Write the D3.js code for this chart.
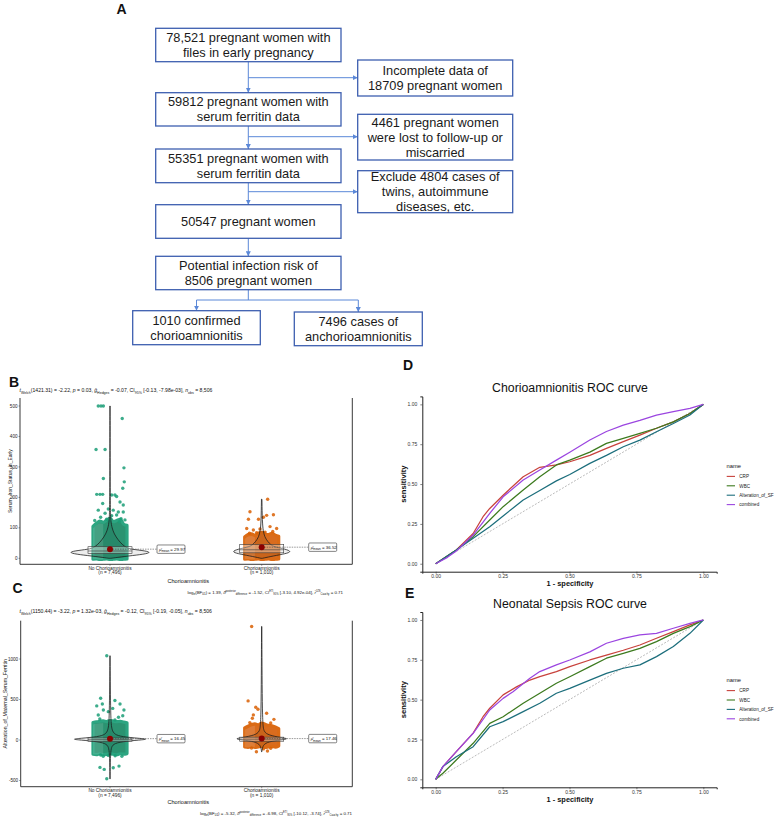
<!DOCTYPE html>
<html>
<head>
<meta charset="utf-8">
<script src="https://cdn.jsdelivr.net/npm/d3@7"></script>
<style>
  body { margin: 0; background: #fff; }
  svg { display: block; }
</style>
</head>
<body>
<svg id="fig" width="779" height="826"></svg>
<script>
// ---- A: flow chart texts
const flowMain = [
  ["78,521 pregnant women with", "files in early pregnancy"],
  ["59812 pregnant women with", "serum ferritin data"],
  ["55351 pregnant women with", "serum ferritin data"],
  ["50547 pregnant women"],
  ["Potential infection risk of", "8506 pregnant women"]
]
const flowExcluded = [
  ["Incomplete data of", "18709 pregnant women"],
  ["4461 pregnant women", "were lost to follow-up or", "miscarried"],
  ["Exclude 4804 cases of", "twins, autoimmune", "diseases, etc."]
]
const flowOutcome = [
  ["1010 confirmed", "chorioamnionitis"],
  ["7496 cases of", "anchorioamnionitis"]
]

// ---- B / C: between group plots
const groups = ["No Chorioamnionitis", "Chorioamnionitis"]
const groupN = ["7,496", "1,010"]

// jittered outliers as [jitter fraction, value]
const ironNoOutliers = [[-0.69,500],[-0.53,500],[-0.39,500],[0.72,459],[-0.82,357],[-0.29,357],[0.82,297],[-0.39,262],
  [0.84,251],[0.75,230],[-0.78,210],[-0.59,210],[-0.43,210],[0.1,208],[0.29,208],[0.39,203],[-0.43,180],[0.59,185],
  [0.78,175],[-0.69,158],[-0.1,162],[0.19,158],[0.49,152],[-0.29,148],[0.78,152],[0.39,142],[0.1,140],[-0.55,135],
  [0.65,130],[-0.2,128],[0.88,126],[-0.9,124],[0.55,120],[-0.05,122]]
const ironYesOutliers = [[0.35,194],[-0.69,153],[-0.78,128],[-0.19,128],[0.1,135],[0.29,141],[0.69,143],[-0.88,98],
  [-0.49,93],[-0.1,96],[0.49,104],[0.88,98],[-0.72,82],[0.2,86],[-0.3,84],[0.65,88]]
const alterNoOutliers = [[-0.19,1040],[-0.55,516],[-0.78,421],[-0.45,445],[0.29,488],[0.59,445],[0.82,371],[-0.39,371],
  [-0.1,350],[0.16,390],[-0.69,309],[0.75,300],[0.29,247],[-0.6,260],[0.5,280],[-0.55,-186],[-0.4,-200],[-0.1,-190],
  [0.3,-195],[-0.59,-338],[-0.34,-363],[0.19,-343],[0.53,-322],[-0.19,-479],[0.7,-200]]
const alterYesOutliers = [[-0.59,1402],[-0.8,483],[-0.35,405],[-0.22,380],[0.29,330],[-0.49,310],[-0.55,268],[0.72,255],
  [0.53,210],[-0.7,215],[-0.31,-145],[0.34,-136],[0.53,-103],[-0.6,-100],[0.1,-110]]

// dense cloud of points: top / bottom value per jitter column (-1 .. 1)
const ironNoCoreTop = [105,115,122,118,125,132,120,124,128,112,108]
const ironNoCoreBottom = [-3,-2,-4,-3,-2,-4,-3,-2,-4,-3,-2]
const ironYesCoreTop = [70,78,80,75,82,85,80,78,82,76,72]
const ironYesCoreBottom = [-3,-2,-4,-3,-2,-4,-3,-2,-4,-3,-2]
const alterNoCoreTop = [215,225,230,235,228,240,232,226,230,220,212]
const alterNoCoreBottom = [-175,-180,-170,-180,-178,-172,-176,-182,-170,-175,-168]
const alterYesCoreTop = [150,170,190,200,185,210,195,180,175,160,140]
const alterYesCoreBottom = [-85,-90,-80,-90,-85,-80,-90,-85,-80,-88,-75]

// violin profiles [value, relative density]
const ironNoViolin = [[0,0.02],[6,0.35],[12,0.75],[18,1],[24,0.9],[30,0.5],[35,0.4],[45,0.3],[60,0.2],[80,0.1],
  [100,0.05],[120,0.02],[160,0.008],[300,0.005],[500,0.004]]
const ironYesViolin = [[0,0.02],[8,0.4],[15,0.8],[22,1],[30,0.8],[38,0.4],[45,0.3],[55,0.2],[70,0.1],[90,0.05],
  [120,0.02],[194,0.008]]
const alterNoViolin = [[-480,0.004],[-200,0.01],[-100,0.03],[-50,0.08],[-20,0.3],[0,0.8],[10,1],[20,0.8],[40,0.3],
  [70,0.12],[120,0.05],[250,0.015],[1040,0.004]]
const alterYesViolin = [[-145,0.006],[-60,0.04],[-20,0.25],[0,0.7],[15,1],[30,0.7],[60,0.25],[100,0.08],[200,0.02],
  [1402,0.005]]

// box [q1, median, q3] and mean
const ironBoxes = [[16,24,38],[18,28,45]]
const ironMeans = [29.97, 36.52]
const alterBoxes = [[-15,5,25],[-15,10,35]]
const alterMeans = [16.45, 17.46]

const ironSubtitle = [["t","i"],["Welch","sub"],["(1421.31) = -2.22, ",""],["p","i"],[" = 0.03, ",""],["ĝ","i"],["Hedges","sub"],
  [" = -0.07, CI",""],["95%","sub"],[" [-0.13, -7.98e-03], ",""],["n","i"],["obs","sub"],[" = 8,506",""]]
const ironCaption = [["log",""],["e","sub"],["(BF",""],["01","sub"],[") = 1.39, ",""],["δ̂","i"],["posterior","supsub"],["difference","sub2"],
  [" = -1.52, CI",""],["ETI","supsub"],["95%","sub2"],[" [-3.10, 4.92e-04], ",""],["r̂","i"],["JZS","supsub"],["Cauchy","sub2"],[" = 0.71",""]]
const alterSubtitle = [["t","i"],["Welch","sub"],["(1150.44) = -3.22, ",""],["p","i"],[" = 1.32e-03, ",""],["ĝ","i"],["Hedges","sub"],
  [" = -0.12, CI",""],["95%","sub"],[" [-0.19, -0.05], ",""],["n","i"],["obs","sub"],[" = 8,506",""]]
const alterCaption = [["log",""],["e","sub"],["(BF",""],["01","sub"],[") = -5.32, ",""],["δ̂","i"],["posterior","supsub"],["difference","sub2"],
  [" = -6.98, CI",""],["ETI","supsub"],["95%","sub2"],[" [-10.12, -3.74], ",""],["r̂","i"],["JZS","supsub"],["Cauchy","sub2"],[" = 0.71",""]]

// ---- D / E: ROC curves [1 - specificity, sensitivity]
const rocNames = ["CRP", "WBC", "Alteration_of_SF", "combined"]
const rocColors = ["#C8423C", "#3C7A1E", "#1C6E7C", "#9B45E0"]
const chorioCRP = [[0,0],[0.077,0.086],[0.14,0.19],[0.177,0.295],[0.202,0.347],[0.252,0.43],[0.327,0.546],[0.389,0.605],
  [0.451,0.62],[0.501,0.64],[0.576,0.68],[0.638,0.724],[0.701,0.766],[0.763,0.807],[0.825,0.85],[0.888,0.89],[0.95,0.943],[1,1]]
const chorioWBC = [[0,0],[0.077,0.086],[0.14,0.17],[0.202,0.274],[0.252,0.358],[0.327,0.462],[0.389,0.546],[0.451,0.62],
  [0.501,0.65],[0.576,0.70],[0.638,0.755],[0.701,0.787],[0.763,0.818],[0.825,0.85],[0.888,0.89],[0.95,0.943],[1,1]]
const chorioSF = [[0,0],[0.077,0.086],[0.14,0.16],[0.202,0.232],[0.252,0.30],[0.327,0.40],[0.389,0.46],[0.451,0.52],
  [0.501,0.56],[0.576,0.63],[0.638,0.68],[0.701,0.734],[0.763,0.776],[0.825,0.828],[0.888,0.88],[0.95,0.933],[1,1]]
const chorioCombined = [[0,0],[0.044,0.04],[0.077,0.08],[0.14,0.18],[0.202,0.316],[0.252,0.42],[0.327,0.525],[0.389,0.588],
  [0.451,0.65],[0.501,0.70],[0.576,0.776],[0.638,0.83],[0.701,0.87],[0.763,0.90],[0.825,0.933],[0.888,0.954],[0.95,0.975],[1,1]]
const sepsisCRP = [[0,0],[0.027,0.08],[0.077,0.174],[0.14,0.29],[0.177,0.393],[0.202,0.446],[0.252,0.53],[0.302,0.58],
  [0.352,0.623],[0.389,0.644],[0.451,0.676],[0.501,0.707],[0.576,0.749],[0.638,0.78],[0.701,0.81],[0.763,0.843],
  [0.825,0.885],[0.888,0.927],[0.95,0.969],[1,1]]
const sepsisWBC = [[0,0],[0.027,0.038],[0.077,0.121],[0.14,0.226],[0.202,0.351],[0.252,0.393],[0.327,0.477],[0.389,0.54],
  [0.451,0.603],[0.501,0.644],[0.576,0.707],[0.638,0.76],[0.701,0.79],[0.763,0.822],[0.825,0.864],[0.888,0.916],[0.95,0.958],[1,1]]
const sepsisSF = [[0,0],[0.027,0.08],[0.077,0.142],[0.14,0.205],[0.202,0.33],[0.252,0.362],[0.327,0.425],[0.389,0.477],
  [0.451,0.54],[0.501,0.571],[0.576,0.623],[0.638,0.665],[0.701,0.697],[0.763,0.718],[0.825,0.77],[0.888,0.833],[0.95,0.916],[1,1]]
const sepsisCombined = [[0,0],[0.027,0.08],[0.077,0.174],[0.14,0.289],[0.202,0.435],[0.252,0.508],[0.289,0.55],[0.352,0.634],
  [0.389,0.676],[0.451,0.718],[0.501,0.749],[0.576,0.80],[0.638,0.854],[0.701,0.885],[0.763,0.906],[0.825,0.916],
  [0.888,0.948],[0.95,0.979],[1,1]]
const rocTicks = [0, 0.25, 0.5, 0.75, 1]

const svg = d3.select("#fig")
const SANS = "'Liberation Sans', Arial, sans-serif"

function panelLabel(t, x, y) {
  svg.append("text").attr("x", x).attr("y", y).text(t)
    .attr("font-family", SANS).attr("font-weight", "bold").attr("font-size", 14).attr("fill", "#111")
}

// ================= A : flow chart =================
function drawFlow() {
  const g = svg.append("g")
  const boxStroke = "#3d5fb0", lineCol = "#5b88d8"
  const mainX = [155.7, 341], cx = 248.3
  const mainY = [[28.3,61.7],[92.7,126],[149,182.7],[204.7,238.3],[256.3,289.7]]
  const sideX = [357.7, 512.7]
  const sideY = [[60,96],[114.3,160],[170.7,212.7]]
  const branchY = [77.7, 136.7, 191.7]
  const outX = [[132.7,260.3],[294.3,422.3]]
  const outY = [[310.7,344.7],[312,345.7]]
  const splitY = 300

  g.append("defs").append("marker").attr("id", "arr").attr("viewBox", "0 0 6 6")
    .attr("refX", 6).attr("refY", 3).attr("markerWidth", 5).attr("markerHeight", 5).attr("orient", "auto")
    .append("path").attr("d", "M0,0L6,3L0,6z").attr("fill", lineCol)

  function line(x1, y1, x2, y2, arrow) {
    const l = g.append("line").attr("x1", x1).attr("y1", y1).attr("x2", x2).attr("y2", y2)
      .attr("stroke", lineCol).attr("stroke-width", 1)
    if (arrow) l.attr("marker-end", "url(#arr)")
  }
  function box(x0, x1, y0, y1, lines) {
    g.append("rect").attr("x", x0).attr("y", y0).attr("width", x1 - x0).attr("height", y1 - y0)
      .attr("fill", "#fff").attr("stroke", boxStroke).attr("stroke-width", 1.3)
    const lh = 15, mid = (y0 + y1) / 2
    lines.forEach((t, i) => {
      g.append("text").attr("x", (x0 + x1) / 2).attr("y", mid + (i - (lines.length - 1) / 2) * lh + 4.4)
        .attr("text-anchor", "middle").attr("font-family", SANS)
        .attr("font-size", 12.8).attr("fill", "#1a1a1a").text(t)
    })
  }
  // vertical connectors
  for (let i = 0; i < mainY.length - 1; i++) line(cx, mainY[i][1], cx, mainY[i + 1][0], true)
  branchY.forEach(y => line(cx, y, sideX[0], y, true))
  line(cx, mainY[4][1], cx, splitY)
  const oc = outX.map(d => (d[0] + d[1]) / 2)
  line(oc[0], splitY, oc[1], splitY)
  line(oc[0], splitY, oc[0], outY[0][0], true)
  line(oc[1], splitY, oc[1], outY[1][0], true)

  flowMain.forEach((t, i) => box(mainX[0], mainX[1], mainY[i][0], mainY[i][1], t))
  flowExcluded.forEach((t, i) => box(sideX[0], sideX[1], sideY[i][0], sideY[i][1], t))
  flowOutcome.forEach((t, i) => box(outX[i][0], outX[i][1], outY[i][0], outY[i][1], t))
}

// rich small text with sub/superscripts
function richText(g, x, y, parts, size, anchor) {
  const t = g.append("text").attr("x", x).attr("y", y).attr("font-family", SANS)
    .attr("font-size", size).attr("fill", "#111").attr("text-anchor", anchor || "start")
  let shift = 0
  parts.forEach(([s, k]) => {
    const sp = t.append("tspan").text(s)
    let target = 0, fs = size
    if (k === "sub") { target = size * 0.3; fs = size * 0.7 }
    if (k === "sub2") { target = size * 0.3; fs = size * 0.6 }
    if (k === "supsub") { target = -size * 0.4; fs = size * 0.6 }
    if (k === "i") sp.attr("font-style", "italic")
    sp.attr("font-size", fs).attr("dy", target - shift)
    shift = target
  })
  return t
}

// ================= B / C : violin + box + jitter =================
function drawBetween(cfg) {
  const g = svg.append("g")
  const y = d3.scaleLinear().domain(cfg.yDomain).range(cfg.yRange)
  const x = d3.scalePoint().domain(groups).range([110, 261.7])
  const jw = 17
  const colors = ["#1B9E77", "#D95F02"], coreColors = ["#1a8a66", "#d6600c"]

  // frame lines
  g.append("line").attr("x1", cfg.left).attr("x2", cfg.left).attr("y1", cfg.top).attr("y2", cfg.bottom).attr("stroke", "#222").attr("stroke-width", 0.9)
  g.append("line").attr("x1", cfg.right).attr("x2", cfg.right).attr("y1", cfg.top).attr("y2", cfg.bottom).attr("stroke", "#222").attr("stroke-width", 0.9)
  g.append("line").attr("x1", cfg.left).attr("x2", cfg.right).attr("y1", cfg.bottom).attr("y2", cfg.bottom).attr("stroke", "#222").attr("stroke-width", 0.9)

  // y axis ticks
  cfg.yTicks.forEach(v => {
    g.append("line").attr("x1", cfg.left - 1.5).attr("x2", cfg.left).attr("y1", y(v)).attr("y2", y(v)).attr("stroke", "#333").attr("stroke-width", 0.5)
    g.append("text").attr("x", cfg.left - 2.5).attr("y", y(v) + 1.6).attr("text-anchor", "end")
      .attr("font-family", SANS).attr("font-size", 4.6).attr("fill", "#222").text(v)
  })
  g.append("text").attr("transform", `translate(${cfg.yTitleX},${(cfg.top + cfg.bottom) / 2}) rotate(-90)`)
    .attr("text-anchor", "middle").attr("font-family", SANS).attr("font-size", cfg.yTitleSize).attr("fill", "#111").text(cfg.yTitle)

  groups.forEach((name, gi) => {
    const cx = x(name)
    g.append("line").attr("x1", cx).attr("x2", cx).attr("y1", cfg.bottom).attr("y2", cfg.bottom + 1.5).attr("stroke", "#333").attr("stroke-width", 0.5)
    g.append("text").attr("x", cx).attr("y", cfg.bottom + 5.4).attr("text-anchor", "middle").attr("font-family", SANS)
      .attr("font-size", 4.8).attr("fill", "#222").text(name)
    g.append("text").attr("x", cx).attr("y", cfg.bottom + 9.8).attr("text-anchor", "middle").attr("font-family", SANS)
      .attr("font-size", 4.8).attr("fill", "#222").text(`(n = ${groupN[gi]})`)

    // dense point cloud
    const top = cfg.coreTop[gi], bot = cfg.coreBottom[gi]
    const cols = top.map((v, i) => ({ f: -1 + 2 * i / (top.length - 1), t: v, b: bot[i] }))
    g.append("path").datum(cols)
      .attr("d", d3.area().x(d => cx + d.f * jw).y0(d => y(d.b)).y1(d => y(d.t)).curve(d3.curveMonotoneX))
      .attr("fill", coreColors[gi]).attr("stroke", colors[gi]).attr("stroke-width", 3.2).attr("stroke-linejoin", "round")
      .attr("opacity", 0.92)
    // lighter left band
    g.append("path").datum(cols.slice(0, 4))
      .attr("d", d3.area().x(d => cx + d.f * jw).y0(d => y(d.b)).y1(d => y(d.t) + 2).curve(d3.curveMonotoneX))
      .attr("fill", "#fff").attr("opacity", 0.12)

    g.selectAll(null).data(cfg.outliers[gi]).join("circle")
      .attr("cx", d => cx + d[0] * jw).attr("cy", d => y(d[1])).attr("r", 1.7)
      .attr("fill", colors[gi]).attr("opacity", 0.85)

    // violin
    const vio = cfg.violins[gi], vmax = cfg.violinMax[gi]
    g.append("path").datum(vio)
      .attr("d", d3.area().y(d => y(d[0])).x0(d => cx - d[1] * vmax).x1(d => cx + d[1] * vmax).curve(d3.curveBasis))
      .attr("fill", "#000").attr("fill-opacity", 0.07).attr("stroke", "#1a1a1a").attr("stroke-width", 0.75)

    // box
    const [q1, md, q3] = cfg.boxes[gi]
    g.append("rect").attr("x", cx - 22).attr("y", y(q3)).attr("width", 44).attr("height", Math.max(1.5, y(q1) - y(q3)))
      .attr("fill", "#fff").attr("fill-opacity", 0.35).attr("stroke", "#3a3a3a").attr("stroke-width", 0.6)
    g.append("line").attr("x1", cx - 22).attr("x2", cx + 22).attr("y1", y(md)).attr("y2", y(md)).attr("stroke", "#3a3a3a").attr("stroke-width", 0.6)

    // mean
    const my = y(cfg.means[gi])
    g.append("line").attr("x1", cx).attr("x2", cx + 47).attr("y1", my).attr("y2", my)
      .attr("stroke", "#333").attr("stroke-width", 0.5).attr("stroke-dasharray", "1.5,1")
    g.append("circle").attr("cx", cx).attr("cy", my).attr("r", 3).attr("fill", "#8B0000")
    g.append("rect").attr("x", cx + 47).attr("y", my - 4.2).attr("width", 28).attr("height", 8.4).attr("rx", 1)
      .attr("fill", "#fff").attr("stroke", "#333").attr("stroke-width", 0.6)
    richText(g, cx + 49, my + 1.8, [["μ̂", "i"], ["mean", "sub"], [" = " + cfg.means[gi].toFixed(2), ""]], 4.4)
  })

  g.append("text").attr("x", 188.3).attr("y", cfg.xTitleY).attr("text-anchor", "middle").attr("font-family", SANS)
    .attr("font-size", 5.6).attr("fill", "#111").text("Chorioamnionitis")
  richText(g, 19.5, cfg.subtitleY, cfg.subtitle, 5.1)
  richText(g, cfg.captionX, cfg.captionY, cfg.caption, 4.4, "end")
}

// ================= D / E : ROC =================
function drawRoc(cfg) {
  const g = svg.append("g")
  const x = d3.scaleLinear().domain([-0.05, 1.05]).range([422.3, 716.7])
  const y = d3.scaleLinear().domain([-0.05, 1.05]).range([cfg.y0, cfg.y0 - 175.3])

  g.append("text").attr("x", 570).attr("y", cfg.y0 - 179.5).attr("text-anchor", "middle").attr("font-family", SANS)
    .attr("font-size", 12.3).attr("fill", "#111").text(cfg.title)

  const xa = g.append("g").attr("transform", `translate(0,${cfg.y0})`)
    .call(d3.axisBottom(x).tickValues(rocTicks).tickFormat(d3.format(".2f")).tickSize(2))
  const ya = g.append("g").attr("transform", "translate(422.3,0)")
    .call(d3.axisLeft(y).tickValues(rocTicks).tickFormat(d3.format(".2f")).tickSize(2))
  ;[xa, ya].forEach(a => {
    a.select(".domain").attr("stroke", "#222").attr("stroke-width", 1)
    a.selectAll(".tick line").attr("stroke", "#333").attr("stroke-width", 0.6)
    a.selectAll(".tick text").attr("font-family", SANS).attr("font-size", 5).attr("fill", "#333")
  })
  xa.selectAll(".tick text").attr("y", 3).attr("dy", "0.71em")

  g.append("text").attr("x", 570).attr("y", cfg.y0 + 14.5).attr("text-anchor", "middle").attr("font-family", SANS)
    .attr("font-weight", "bold").attr("font-size", 7.4).attr("fill", "#111").text("1 - specificity")
  g.append("text").attr("transform", `translate(405.8,${y(0.5)}) rotate(-90)`).attr("text-anchor", "middle")
    .attr("font-family", SANS).attr("font-weight", "bold").attr("font-size", 7.6).attr("fill", "#111").text("sensitivity")

  g.append("line").attr("x1", x(0)).attr("y1", y(0)).attr("x2", x(1)).attr("y2", y(1))
    .attr("stroke", "#aaa").attr("stroke-width", 0.8).attr("stroke-dasharray", "2,1.5")

  const line = d3.line().x(d => x(d[0])).y(d => y(d[1]))
  cfg.curves.forEach((c, i) => {
    g.append("path").datum(c).attr("d", line).attr("fill", "none")
      .attr("stroke", rocColors[i]).attr("stroke-width", 1.25).attr("stroke-linejoin", "round")
  })

  // legend
  const ly = cfg.legendY
  g.append("text").attr("x", 726.5).attr("y", ly).attr("font-family", SANS).attr("font-size", 5.8).attr("fill", "#111").text("name")
  rocNames.forEach((n, i) => {
    const yy = ly + 8.6 + i * 9.4
    g.append("line").attr("x1", 726.7).attr("x2", 735).attr("y1", yy).attr("y2", yy).attr("stroke", rocColors[i]).attr("stroke-width", 1.1)
    g.append("text").attr("x", 739.3).attr("y", yy + 1.7).attr("font-family", SANS).attr("font-size", 4.6).attr("fill", "#222").text(n)
  })
}

drawFlow()
panelLabel("A", 116.5, 14)

drawBetween({
  top: 398, bottom: 564.3, left: 20, right: 352.3,
  yDomain: [0, 500], yRange: [558.3, 406], yTicks: [0, 100, 200, 300, 400, 500],
  yTitle: "Serum_Iron_Status_in_Early", yTitleX: 11.5, yTitleSize: 5,
  coreTop: [ironNoCoreTop, ironYesCoreTop], coreBottom: [ironNoCoreBottom, ironYesCoreBottom],
  outliers: [ironNoOutliers, ironYesOutliers], violins: [ironNoViolin, ironYesViolin], violinMax: [41, 30],
  boxes: ironBoxes, means: ironMeans,
  xTitleY: 583.3, subtitle: ironSubtitle, subtitleY: 392.3, caption: ironCaption, captionX: 343, captionY: 593.8
})
panelLabel("B", 9, 387)

drawBetween({
  top: 620.7, bottom: 786.7, left: 20.7, right: 352.3,
  yDomain: [0, 1000], yRange: [740, 659], yTicks: [-500, 0, 500, 1000],
  yTitle: "Alteration_of_Maternal_Serum_Ferritin", yTitleX: 6.5, yTitleSize: 5.2,
  coreTop: [alterNoCoreTop, alterYesCoreTop], coreBottom: [alterNoCoreBottom, alterYesCoreBottom],
  outliers: [alterNoOutliers, alterYesOutliers], violins: [alterNoViolin, alterYesViolin], violinMax: [38, 27.5],
  boxes: alterBoxes, means: alterMeans,
  xTitleY: 804, subtitle: alterSubtitle, subtitleY: 613.3, caption: alterCaption, captionX: 352, captionY: 815
})
panelLabel("C", 12.5, 593)

drawRoc({ title: "Chorioamnionitis ROC curve", y0: 571.7, legendY: 467.8,
  curves: [chorioCRP, chorioWBC, chorioSF, chorioCombined] })
panelLabel("D", 403, 370)

drawRoc({ title: "Neonatal Sepsis ROC curve", y0: 787.3, legendY: 682,
  curves: [sepsisCRP, sepsisWBC, sepsisSF, sepsisCombined] })
panelLabel("E", 405, 598)
</script>
</body>
</html>
